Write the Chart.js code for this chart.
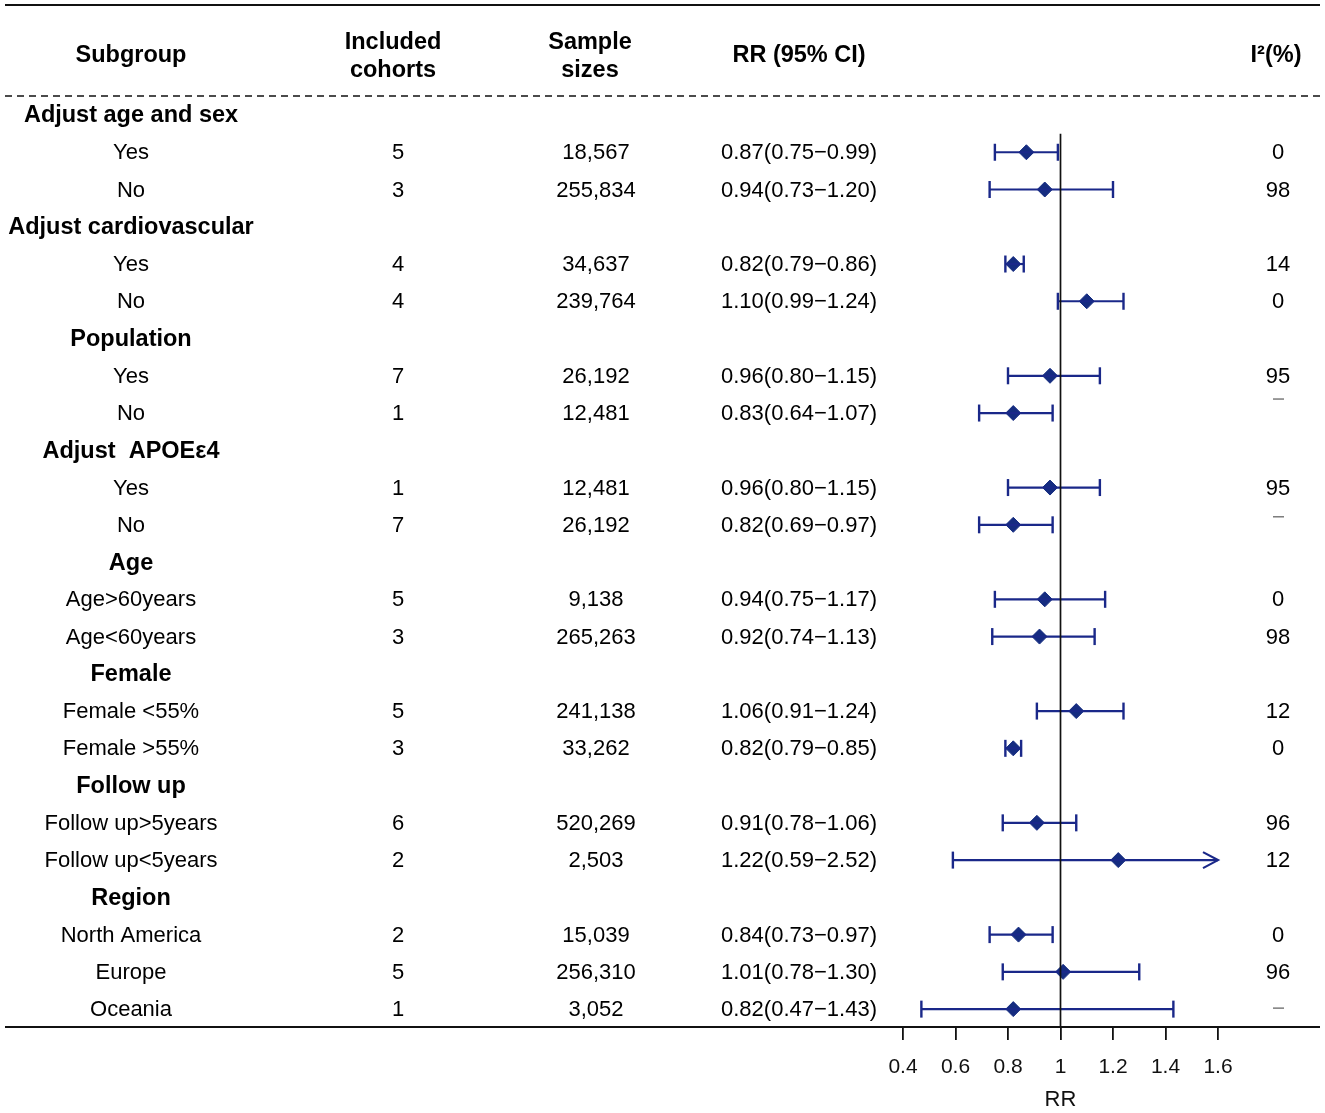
<!DOCTYPE html>
<html>
<head>
<meta charset="utf-8">
<script src="https://cdn.jsdelivr.net/npm/chart.js@4"></script>
<style>
  body { margin: 0; background: #fff; }
  #wrap { width: 1325px; height: 1113px; position: relative; }
</style>
</head>
<body>
<div id="wrap"><canvas id="forest"></canvas></div>
<script>
// rows of the table, top to bottom
const subgroups = ['Adjust age and sex', 'Yes', 'No', 'Adjust cardiovascular', 'Yes', 'No',
  'Population', 'Yes', 'No', 'Adjust  APOE\u03b54', 'Yes', 'No', 'Age', 'Age>60years', 'Age<60years',
  'Female', 'Female <55%', 'Female >55%', 'Follow up', 'Follow up>5years', 'Follow up<5years',
  'Region', 'North America', 'Europe', 'Oceania']
const isGroup = [1,0,0,1,0,0,1,0,0,1,0,0,1,0,0,1,0,0,1,0,0,1,0,0,0]
const cohorts = ['', '5', '3', '', '4', '4', '', '7', '1', '', '1', '7', '', '5', '3', '', '5', '3', '', '6', '2', '', '2', '5', '1']
const samples = ['', '18,567', '255,834', '', '34,637', '239,764', '', '26,192', '12,481', '', '12,481', '26,192',
  '', '9,138', '265,263', '', '241,138', '33,262', '', '520,269', '2,503', '', '15,039', '256,310', '3,052']
const ciText = ['', '0.87(0.75\u22120.99)', '0.94(0.73\u22121.20)', '', '0.82(0.79\u22120.86)', '1.10(0.99\u22121.24)',
  '', '0.96(0.80\u22121.15)', '0.83(0.64\u22121.07)', '', '0.96(0.80\u22121.15)', '0.82(0.69\u22120.97)',
  '', '0.94(0.75\u22121.17)', '0.92(0.74\u22121.13)', '', '1.06(0.91\u22121.24)', '0.82(0.79\u22120.85)',
  '', '0.91(0.78\u22121.06)', '1.22(0.59\u22122.52)', '', '0.84(0.73\u22120.97)', '1.01(0.78\u22121.30)', '0.82(0.47\u22121.43)']
const i2 = ['', '0', '98', '', '14', '0', '', '95', '-', '', '95', '-', '', '0', '98', '', '12', '0',
  '', '96', '12', '', '0', '96', '-']

// plotted estimates as drawn in the figure
const rr = [null, 0.87, 0.94, null, 0.82, 1.10, null, 0.96, 0.82, null, 0.96, 0.82, null, 0.94, 0.92,
  null, 1.06, 0.82, null, 0.91, 1.22, null, 0.84, 1.01, 0.82]
const lo = [null, 0.75, 0.73, null, 0.79, 0.99, null, 0.80, 0.69, null, 0.80, 0.69, null, 0.75, 0.74,
  null, 0.91, 0.79, null, 0.78, 0.59, null, 0.73, 0.78, 0.47]
const hi = [null, 0.99, 1.20, null, 0.86, 1.24, null, 1.15, 0.97, null, 1.15, 0.97, null, 1.17, 1.13,
  null, 1.24, 0.85, null, 1.06, 2.52, null, 0.97, 1.30, 1.43]
const xTicks = [0.4, 0.6, 0.8, 1, 1.2, 1.4, 1.6]

const X_MIN = 0.4, X_MAX = 1.6
const NAVY = '#1a2889'
const FONT = '"Liberation Sans", Arial, Helvetica, sans-serif'

const datasets = []
rr.forEach((v, i) => {
  if (v === null) return
  const clipped = hi[i] > X_MAX
  datasets.push({
    type: 'scatter',
    showLine: true,
    data: [{ x: lo[i], y: i }, { x: Math.min(hi[i], X_MAX), y: i }],
    borderColor: NAVY,
    borderWidth: 2.2,
    pointStyle: 'line',
    rotation: 90,
    pointBorderColor: NAVY,
    pointBorderWidth: 2.4,
    pointRadius: clipped ? [8.5, 0] : 8.5,
    pointHoverRadius: 0,
    clip: false
  })
})
datasets.push({
  type: 'scatter',
  data: rr.map((v, i) => v === null ? null : { x: v, y: i }).filter(p => p),
  pointStyle: 'rectRot',
  pointRadius: 7.5,
  backgroundColor: '#152c80',
  borderColor: '#152c80',
  borderWidth: 1,
  clip: false
})

// table, rules, reference line and the arrow
const tablePlugin = {
  id: 'forestTable',
  afterDatasetsDraw(chart) {
    const ctx = chart.ctx
    const xs = chart.scales.x, ys = chart.scales.y
    ctx.save()

    // reference line at RR = 1
    ctx.strokeStyle = '#111'
    ctx.lineWidth = 1.7
    ctx.beginPath()
    ctx.moveTo(xs.getPixelForValue(1), ys.getPixelForValue(0.5))
    ctx.lineTo(xs.getPixelForValue(1), ys.bottom)
    ctx.stroke()

    // arrow for CI that runs past the axis
    hi.forEach((h, i) => {
      if (h === null || h <= X_MAX) return
      const px = xs.getPixelForValue(X_MAX), py = ys.getPixelForValue(i)
      ctx.strokeStyle = NAVY
      ctx.lineWidth = 2.2
      ctx.beginPath()
      ctx.moveTo(px - 15, py - 8)
      ctx.lineTo(px, py)
      ctx.lineTo(px - 15, py + 8)
      ctx.stroke()
    })

    // horizontal rules
    ctx.strokeStyle = '#111'
    ctx.lineWidth = 2
    ctx.beginPath()
    ctx.moveTo(5, 5); ctx.lineTo(1320, 5)
    ctx.moveTo(5, ys.bottom); ctx.lineTo(1320, ys.bottom)
    ctx.stroke()
    ctx.lineWidth = 1.4
    ctx.setLineDash([7, 5])
    ctx.beginPath()
    ctx.moveTo(5, ys.top); ctx.lineTo(1320, ys.top)
    ctx.stroke()
    ctx.setLineDash([])

    // header
    ctx.fillStyle = '#000'
    ctx.textAlign = 'center'
    ctx.textBaseline = 'middle'
    ctx.font = 'bold 23.5px ' + FONT
    ctx.fillText('Subgroup', 131, 56)
    ctx.fillText('Included', 393, 43)
    ctx.fillText('cohorts', 393, 71)
    ctx.fillText('Sample', 590, 43)
    ctx.fillText('sizes', 590, 71)
    ctx.fillText('RR (95% CI)', 799, 56)
    ctx.fillText('I\u00b2(%)', 1276, 56)

    // body rows
    subgroups.forEach((s, i) => {
      const y = ys.getPixelForValue(i) + 1
      if (isGroup[i]) {
        ctx.font = 'bold 23.5px ' + FONT
        ctx.fillStyle = '#000'
        ctx.fillText(s, 131, y)
        return
      }
      ctx.font = '22px ' + FONT
      ctx.fillStyle = '#000'
      ctx.fillText(s, 131, y)
      ctx.fillText(cohorts[i], 398, y)
      ctx.fillText(samples[i], 596, y)
      ctx.fillText(ciText[i], 799, y)
      if (i2[i] === '-') {
        ctx.strokeStyle = '#666'
        ctx.lineWidth = 1.3
        const dy = i === 8 ? -15 : (i === 11 ? -9 : -2)
        ctx.beginPath()
        ctx.moveTo(1273, y + dy); ctx.lineTo(1284, y + dy)
        ctx.stroke()
      } else {
        ctx.fillText(i2[i], 1278, y)
      }
    })
    ctx.restore()
  }
}

new Chart(document.getElementById('forest'), {
  type: 'scatter',
  data: { datasets },
  options: {
    responsive: true,
    maintainAspectRatio: false,
    animation: false,
    events: [],
    layout: { padding: { left: 903, right: 107, top: 96, bottom: 0 } },
    plugins: { legend: { display: false }, tooltip: { enabled: false } },
    scales: {
      x: {
        type: 'linear',
        min: X_MIN,
        max: X_MAX,
        afterBuildTicks: (axis) => { axis.ticks = xTicks.map(v => ({ value: v })) },
        afterFit: (axis) => { axis.height = 86 },
        border: { display: false },
        grid: { drawOnChartArea: false, drawTicks: true, tickLength: 13, color: '#111', lineWidth: 1.8 },
        ticks: {
          padding: 15,
          color: '#111',
          font: { family: FONT, size: 21 },
          callback: (v) => String(+v.toFixed(1))
        },
        title: {
          display: true,
          text: 'RR',
          color: '#111',
          font: { family: FONT, size: 22 },
          padding: { top: 0, bottom: 0 }
        }
      },
      y: {
        type: 'linear',
        display: false,
        reverse: true,
        min: -0.51,
        max: 24.48
      }
    }
  },
  plugins: [tablePlugin]
})
</script>
</body>
</html>
